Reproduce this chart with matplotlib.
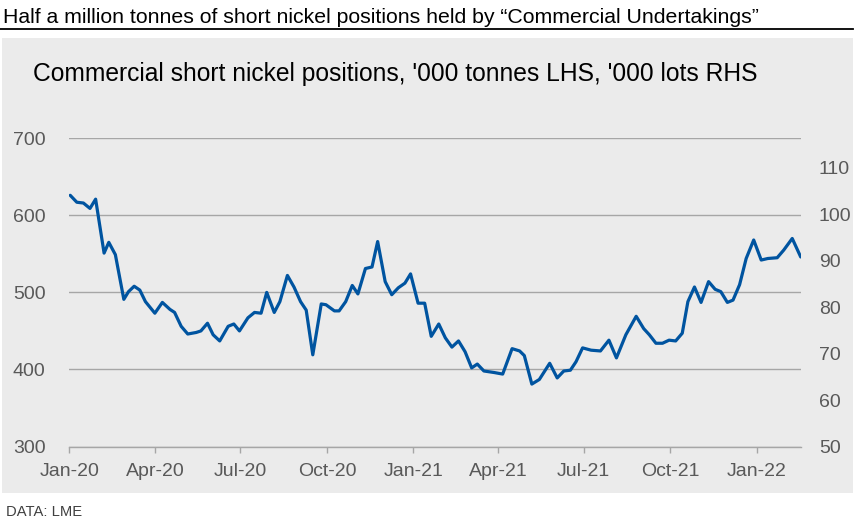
import matplotlib
matplotlib.use("Agg")
import matplotlib.pyplot as plt
import matplotlib.dates as mdates
from matplotlib.patches import Rectangle
from matplotlib.lines import Line2D
import numpy as np
import pandas as pd

plt.rcParams['font.family'] = ['Liberation Sans', 'DejaVu Sans']

# Commercial short nickel positions, '000 tonnes
dates = [
    "2020-01-02", "2020-01-09", "2020-01-16", "2020-01-23", "2020-01-29",
    "2020-02-07", "2020-02-12", "2020-02-19", "2020-02-28", "2020-03-04",
    "2020-03-10", "2020-03-16", "2020-03-22", "2020-04-01", "2020-04-09",
    "2020-04-17", "2020-04-22", "2020-04-29", "2020-05-06", "2020-05-15",
    "2020-05-20", "2020-05-27", "2020-06-02", "2020-06-09", "2020-06-18",
    "2020-06-24", "2020-06-30", "2020-07-09", "2020-07-16", "2020-07-23",
    "2020-07-29", "2020-08-06", "2020-08-12", "2020-08-20", "2020-08-27",
    "2020-09-03", "2020-09-09", "2020-09-16", "2020-09-25", "2020-09-30",
    "2020-10-09", "2020-10-14", "2020-10-21", "2020-10-28", "2020-11-03",
    "2020-11-11", "2020-11-18", "2020-11-24", "2020-12-02", "2020-12-09",
    "2020-12-16", "2020-12-23", "2020-12-29", "2021-01-06", "2021-01-13",
    "2021-01-20", "2021-01-28", "2021-02-04", "2021-02-11", "2021-02-18",
    "2021-02-25", "2021-03-04", "2021-03-10", "2021-03-17", "2021-03-28",
    "2021-04-06", "2021-04-16", "2021-04-24", "2021-04-29", "2021-05-07",
    "2021-05-15", "2021-05-26", "2021-06-03", "2021-06-10", "2021-06-17",
    "2021-06-23", "2021-06-30", "2021-07-09", "2021-07-19", "2021-07-28",
    "2021-08-05", "2021-08-15", "2021-08-26", "2021-09-03", "2021-09-09",
    "2021-09-16", "2021-09-23", "2021-09-30", "2021-10-07", "2021-10-14",
    "2021-10-20", "2021-10-27", "2021-11-03", "2021-11-11", "2021-11-18",
    "2021-11-24", "2021-12-01", "2021-12-07", "2021-12-14", "2021-12-21",
    "2021-12-29", "2022-01-06", "2022-01-13", "2022-01-23", "2022-01-30",
    "2022-02-08", "2022-02-17",
]
tonnes = [
    626, 617, 616, 609, 621,
    551, 565, 549, 491, 501,
    508, 503, 488, 473, 487,
    478, 474, 456, 446, 448,
    450, 460, 445, 437, 456,
    459, 450, 467, 474, 473,
    500, 474, 488, 522, 507,
    488, 477, 419, 485, 484,
    476, 476, 488, 509, 498,
    531, 533, 566, 514, 497,
    506, 512, 524, 486, 486,
    443, 459, 441, 429, 437,
    423, 402, 407, 398, 396,
    394, 427, 424, 418, 381,
    387, 408, 389, 398, 399,
    410, 428, 425, 424, 438,
    415, 445, 469, 453, 445,
    434, 434, 438, 437, 447,
    488, 507, 487, 514, 504,
    501, 487, 490, 510, 544,
    568, 542, 544, 545, 555,
    570, 546,
]

left_ticks = [300, 400, 500, 600, 700]
right_ticks = [50, 60, 70, 80, 90, 100, 110]
x_ticks = ["2020-01-01", "2020-04-01", "2020-07-01", "2020-10-01",
           "2021-01-01", "2021-04-01", "2021-07-01", "2021-10-01",
           "2022-01-01"]

title = "Half a million tonnes of short nickel positions held by \u201cCommercial Undertakings\u201d"
subtitle = "Commercial short nickel positions, '000 tonnes LHS, '000 lots RHS"
source = "DATA: LME"

line_col = "#0054A0"
tick_col = "#595959"
grid_col = "#A6A6A6"
panel_col = "#EBEBEB"

fig = plt.figure(figsize=(8.56, 5.24), dpi=100)

# grey panel behind the chart
fig.patches.append(Rectangle((2 / 856, 1 - 492.7 / 524), 851 / 856, 455 / 524,
                             transform=fig.transFigure, facecolor=panel_col,
                             edgecolor="none", zorder=-10))
# rule under the headline
fig.lines.append(Line2D([0, 853 / 856], [1 - 29.3 / 524] * 2, transform=fig.transFigure,
                        color="black", lw=1.3, zorder=-10))

fig.text(3 / 856, 1 - 22.7 / 524, title, fontsize=15.3, color="black", va="baseline")
fig.text(33 / 856, 1 - 81 / 524, subtitle, fontsize=17.7, color="black", va="baseline")
fig.text(6 / 856, 1 - 516 / 524, source, fontsize=10.6, color="#404040", va="baseline")

ax = fig.add_axes([69.3 / 856, 1 - 446.5 / 524, (800.7 - 69.3) / 856, (446.5 - 138.3) / 524])
ax.patch.set_alpha(0)

x = pd.to_datetime(dates)
ax.plot(x, tonnes, color=line_col, lw=2.3, solid_capstyle="round",
        solid_joinstyle="round", zorder=3)

ax.set_xlim(pd.Timestamp("2020-01-01"), pd.Timestamp(dates[-1]))
ax.set_ylim(300, 700)
ax.set_yticks(left_ticks)
ax.set_xticks(pd.to_datetime(x_ticks))
ax.xaxis.set_major_formatter(mdates.DateFormatter("%b-%y"))

for s in ["top", "right", "left"]:
    ax.spines[s].set_visible(False)
ax.spines["bottom"].set_color(grid_col)
ax.spines["bottom"].set_linewidth(1)

ax.grid(axis="y", color=grid_col, lw=1)
ax.set_axisbelow(True)
ax.tick_params(axis="y", length=0, pad=17, labelsize=14, labelcolor=tick_col)
ax.tick_params(axis="x", direction="out", length=4, width=1, color=grid_col,
               pad=8, labelsize=14, labelcolor=tick_col)

# right axis in '000 lots (1 lot = 6 tonnes)
ax2 = ax.twinx()
ax2.set_ylim(50, 116.3)
ax2.set_yticks(right_ticks)
for s in ["top", "right", "left", "bottom"]:
    ax2.spines[s].set_visible(False)
ax2.tick_params(axis="y", length=0, pad=13, labelsize=14, labelcolor=tick_col)

fig.savefig("out.png", dpi=100)
